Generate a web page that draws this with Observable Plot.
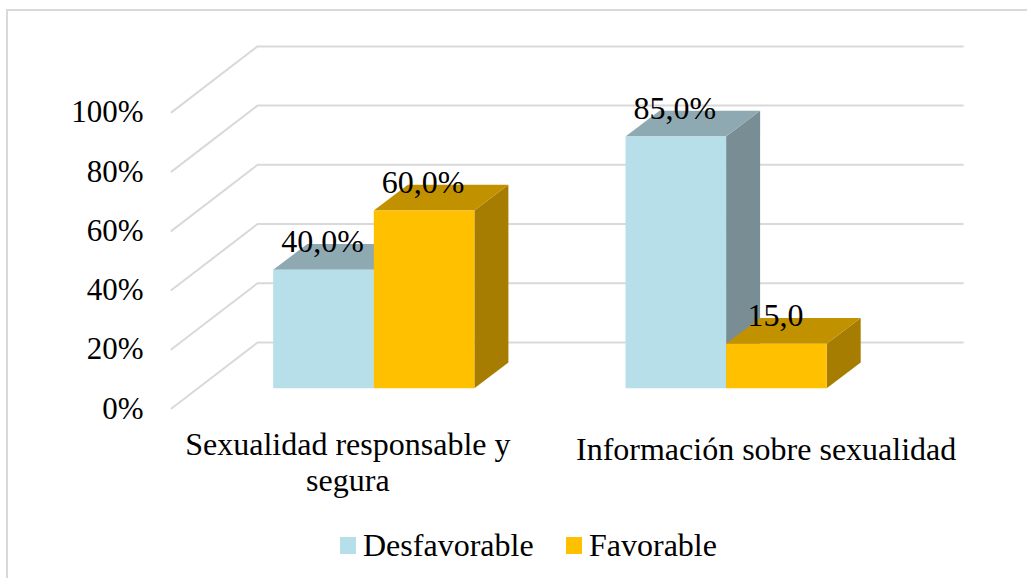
<!DOCTYPE html>
<html>
<head>
<meta charset="utf-8">
<script src="https://cdn.jsdelivr.net/npm/d3@7"></script>
<script src="https://cdn.jsdelivr.net/npm/@observablehq/plot@0.6"></script>
<style>
  html, body { margin: 0; padding: 0; background: #fff; width: 1027px; height: 578px; overflow: hidden; }
  #frame { position: absolute; left: 6px; top: 9px; right: 0; bottom: 0; border-left: 2px solid #d9d9d9; border-top: 2px solid #d9d9d9; pointer-events: none; }
  #chart { position: absolute; left: 0; top: 0; }
  #chart svg { display: block; }
  #legend { position: absolute; left: 0; top: 520px; width: 1027px; height: 58px; font: 32px "Liberation Serif", serif; color: #000; }
  #legend span { position: absolute; top: 7px; white-space: nowrap; line-height: 36px; }
  #legend i { position: absolute; top: 17px; width: 16px; height: 17px; display: block; }
</style>
</head>
<body>
<div id="chart"></div>
<div id="legend"></div>
<div id="frame"></div>
<script>
const categories = ["Sexualidad responsable y\nsegura", "Información sobre sexualidad"];
const seriesNames = ["Desfavorable", "Favorable"];
const desfavorable = [40, 85];
const favorable = [60, 15];
const desfavorableLabels = ["40,0%", "85,0%"];
const favorableLabels = ["60,0%", "15,0"];
const ticks = [0, 20, 40, 60, 80, 100];
const faceColors = {
  Desfavorable: { front: "#b7dfe9", top: "#8ea9b2", side: "#788e94" },
  Favorable: { front: "#ffc000", top: "#c29100", side: "#a67d00" }
};

// Projection constants of the pseudo-3D view, in scale units (bar widths, percent)
const groupStep = 3.502;
const depthX = 0.338, depthY = 8.68;
const wallBackX = -0.156, wallBackY = 15.44;
const wallFrontX = -1.011, wallFrontY = -6.86;
const wallEndX = 6.855;
const tickLabelX = -1.289;
const categoryX = [0.742, 4.9];
const categoryY = [-34.8, -24.3];

const marks = [];

// Walls: gridlines
for (const t of ticks) {
  marks.push(Plot.line(
    [{x: wallFrontX, y: t + wallFrontY}, {x: wallBackX, y: t + wallBackY}, {x: wallEndX, y: t + wallBackY}],
    {x: "x", y: "y", stroke: "#d9d9d9", strokeWidth: 2}
  ));
}

const face = (pts, fill) => Plot.line(pts, {x: "x", y: "y", fill, stroke: "none"});

function addBar(u, v, c) {
  const u1 = u + 1;
  marks.push(face([
    {x: u1, y: 0}, {x: u1 + depthX, y: depthY}, {x: u1 + depthX, y: v + depthY}, {x: u1, y: v}
  ], c.side));
  marks.push(face([
    {x: u, y: v}, {x: u1, y: v}, {x: u1 + depthX, y: v + depthY}, {x: u + depthX, y: v + depthY}
  ], c.top));
  marks.push(face([
    {x: u, y: 0}, {x: u1, y: 0}, {x: u1, y: v}, {x: u, y: v}
  ], c.front));
}

categories.forEach((_, i) => {
  const u = i * groupStep;
  addBar(u, desfavorable[i], faceColors.Desfavorable);
  addBar(u + 1, favorable[i], faceColors.Favorable);
});

const font = {fill: "#000", fontSize: 32, lineAnchor: "bottom"};

// Data labels
const labelRows = categories.flatMap((_, i) => [
  {x: i * groupStep + 0.5, y: desfavorable[i], t: desfavorableLabels[i]},
  {x: i * groupStep + 1.5, y: favorable[i], t: favorableLabels[i]}
]);
marks.push(Plot.text(labelRows, {x: "x", y: "y", text: "t", dy: -18, dx: -1, textAnchor: "middle", ...font}));

// Y tick labels
marks.push(Plot.text(ticks, {
  x: () => tickLabelX, y: d => d, text: d => d + "%",
  textAnchor: "end", dy: 30.3, ...font, fontSize: 31
}));

// Category labels
marks.push(Plot.text(categories, {
  x: (d, i) => categoryX[i], y: (d, i) => categoryY[i], text: d => d,
  textAnchor: "middle", lineHeight: 1.125, ...font
}));

const plot = Plot.plot({
  width: 1027,
  height: 520,
  margin: 0,
  style: {fontFamily: "'Liberation Serif', serif", background: "transparent", overflow: "visible"},
  x: {domain: [0, 7], range: [272.7, 272.7 + 7 * 100.6], axis: null},
  y: {domain: [0, 100], range: [387.7, 91.6], axis: null},
  marks
});
document.getElementById("chart").append(plot);

// Legend below the SVG
const legend = document.getElementById("legend");
const legendPos = [{sw: 340, tx: 363}, {sw: 566, tx: 589}];
seriesNames.forEach((name, i) => {
  const sw = document.createElement("i");
  sw.style.left = legendPos[i].sw + "px";
  sw.style.background = faceColors[name].front;
  legend.append(sw);
  const s = document.createElement("span");
  s.style.left = legendPos[i].tx + "px";
  s.textContent = name;
  legend.append(s);
});
</script>
</body>
</html>
